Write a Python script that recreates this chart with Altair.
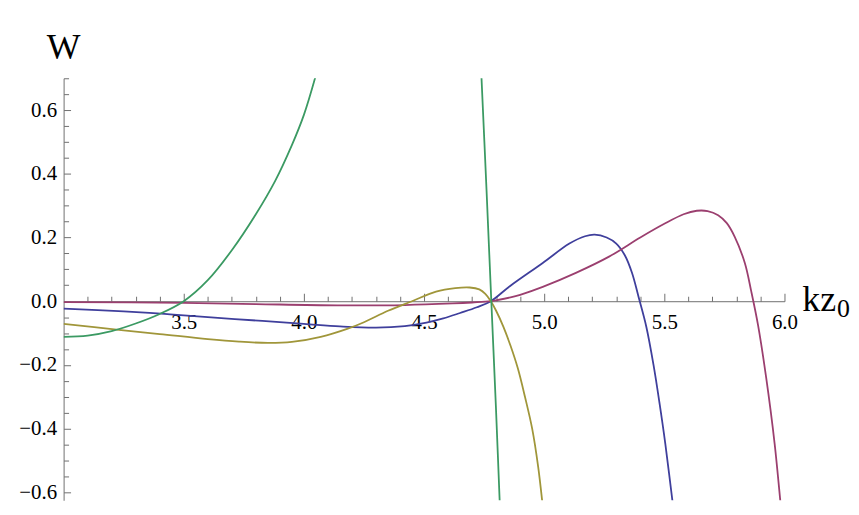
import altair as alt
import pandas as pd

# ---- data (x = kz0, y = W) ----
blue_x = [3.00, 3.25, 3.42, 3.60, 3.81, 4.00, 4.15, 4.30, 4.42, 4.51, 4.58, 4.65, 4.72, 4.778, 4.857, 4.994, 5.105, 5.17, 5.21, 5.26, 5.30, 5.335, 5.365, 5.394, 5.425, 5.455, 5.48, 5.504, 5.538, 5.55]
blue_y = [-0.023, -0.032, -0.040, -0.050, -0.061, -0.071, -0.079, -0.083, -0.078, -0.067, -0.054, -0.037, -0.019, 0.0, 0.047, 0.120, 0.181, 0.204, 0.209, 0.200, 0.181, 0.145, 0.090, 0.010, -0.080, -0.200, -0.320, -0.447, -0.653, -0.720]

purple_x = [3.00, 3.50, 3.80, 4.14, 4.42, 4.62, 4.70, 4.778, 4.86, 4.90, 4.994, 5.132, 5.27, 5.40, 5.50, 5.58, 5.635, 5.68, 5.724, 5.76, 5.793, 5.835, 5.862, 5.890, 5.924, 5.959, 5.986, 5.995]
purple_y = [-0.003, -0.005, -0.009, -0.013, -0.012, -0.007, -0.004, 0.0, 0.012, 0.020, 0.045, 0.089, 0.140, 0.200, 0.243, 0.273, 0.284, 0.283, 0.270, 0.245, 0.202, 0.120, 0.030, -0.075, -0.241, -0.447, -0.653, -0.720]

yellow_x = [3.00, 3.22, 3.40, 3.60, 3.73, 3.85, 3.95, 4.07, 4.18, 4.25, 4.35, 4.45, 4.55, 4.63, 4.69, 4.73, 4.755, 4.778, 4.80, 4.83, 4.86, 4.89, 4.92, 4.95, 4.975, 4.995, 5.005]
yellow_y = [-0.071, -0.089, -0.103, -0.119, -0.127, -0.131, -0.128, -0.112, -0.087, -0.066, -0.030, 0.0, 0.030, 0.041, 0.043, 0.037, 0.023, 0.0, -0.030, -0.080, -0.140, -0.210, -0.300, -0.400, -0.520, -0.650, -0.720]

green1_x = [3.00, 3.10, 3.20, 3.30, 3.40, 3.50, 3.60, 3.70, 3.80, 3.88, 3.95, 4.00, 4.05]
green1_y = [-0.112, -0.108, -0.094, -0.070, -0.040, 0.0, 0.066, 0.160, 0.273, 0.377, 0.490, 0.585, 0.710]

green2_x = [4.738, 4.760, 4.780, 4.799, 4.818]
green2_y = [0.720, 0.350, 0.0, -0.330, -0.690]

x_major = [3.5, 4.0, 4.5, 5.0, 5.5, 6.0]
x_minor = [3.1, 3.2, 3.3, 3.4, 3.6, 3.7, 3.8, 3.9, 4.1, 4.2, 4.3, 4.4, 4.6, 4.7, 4.8, 4.9,
           5.1, 5.2, 5.3, 5.4, 5.6, 5.7, 5.8, 5.9]
y_major = [-0.6, -0.4, -0.2, 0.0, 0.2, 0.4, 0.6]
y_minor = [-0.55, -0.5, -0.45, -0.35, -0.3, -0.25, -0.15, -0.1, -0.05, 0.05, 0.1, 0.15,
           0.25, 0.3, 0.35, 0.45, 0.5, 0.55, 0.65, 0.7]

series = [
    ("blue", "blue", blue_x, blue_y),
    ("purple", "purple", purple_x, purple_y),
    ("yellow", "yellow", yellow_x, yellow_y),
    ("green1", "green", green1_x, green1_y),
    ("green2", "green", green2_x, green2_y),
]
rows = []
for sid, col, xs_, ys_ in series:
    for xv, yv in zip(xs_, ys_):
        rows.append({"x": xv, "y": yv, "s": sid, "c": col})
df = pd.DataFrame(rows)

labels_df = pd.DataFrame({"x": [3.0], "y": [0.7], "t": ["W"]})
kz_df = pd.DataFrame({"x": [6.0], "y": [0.0], "t": ["kz"]})
sub_df = pd.DataFrame({"x": [6.0], "y": [0.0], "t": ["0"]})

W_PX = 726
H_PX = 425
Y_LO, Y_HI = -0.625, 0.7
ZERO_POS = (Y_HI - 0.0) / (Y_HI - Y_LO) * H_PX

xs = alt.Scale(domain=[3.0, 6.0], nice=False, zero=False)
ys = alt.Scale(domain=[Y_LO, Y_HI], nice=False, zero=False)

AX_COL = "#707070"
FONT = "Liberation Serif"
LBL = 21

color_scale = alt.Scale(domain=["blue", "purple", "yellow", "green"],
                        range=["#3f3f9c", "#9b3f6f", "#a0963a", "#3b9a63"])

lines = alt.Chart(df).mark_line(clip=True, strokeWidth=1.8, interpolate="catmull-rom").encode(
    x=alt.X("x:Q", scale=xs, axis=alt.Axis(
        orient="top", offset=-ZERO_POS, values=x_major, tickSize=8, tickColor=AX_COL,
        domainColor=AX_COL, grid=False, title=None, format=".1f",
        labelFont=FONT, labelFontSize=LBL, labelColor="black",
        labelBaseline="middle", labelPadding=-29, labelFlush=False, labelOverlap=False)),
    y=alt.Y("y:Q", scale=ys, axis=alt.Axis(
        orient="right", offset=-W_PX, values=y_major, tickSize=7, tickColor=AX_COL,
        domainColor=AX_COL, grid=False, title=None, format=".1f",
        labelFont=FONT, labelFontSize=LBL, labelColor="black",
        labelAlign="right", labelBaseline="middle", labelPadding=-14,
        labelFlush=False, labelOverlap=False)),
    color=alt.Color("c:N", scale=color_scale, legend=None),
    detail="s:N",
)

minor = alt.Chart(df).mark_line(opacity=0).encode(
    x=alt.X("x:Q", scale=xs, axis=alt.Axis(
        orient="top", offset=-ZERO_POS, values=x_minor, tickSize=5, tickColor=AX_COL,
        domain=False, labels=False, grid=False, title=None)),
    y=alt.Y("y:Q", scale=ys, axis=alt.Axis(
        orient="right", offset=-W_PX, values=y_minor, tickSize=5, tickColor=AX_COL,
        domain=False, labels=False, grid=False, title=None)),
    detail="s:N",
)

w_text = alt.Chart(labels_df).mark_text(font=FONT, fontSize=36, align="center",
                                        baseline="alphabetic", dy=-19, color="black").encode(
    x=alt.X("x:Q", scale=xs, axis=None), y=alt.Y("y:Q", scale=ys, axis=None), text="t:N")

kz_text = alt.Chart(kz_df).mark_text(font=FONT, fontSize=36, align="left",
                                     baseline="alphabetic", dx=18, dy=10, color="black").encode(
    x=alt.X("x:Q", scale=xs, axis=None), y=alt.Y("y:Q", scale=ys, axis=None), text="t:N")

sub_text = alt.Chart(sub_df).mark_text(font=FONT, fontSize=26, align="left",
                                       baseline="alphabetic", dx=53, dy=15.5, color="black").encode(
    x=alt.X("x:Q", scale=xs, axis=None), y=alt.Y("y:Q", scale=ys, axis=None), text="t:N")

chart = alt.layer(lines, minor, w_text, kz_text, sub_text).resolve_axis(
    x="independent", y="independent"
).properties(
    width=W_PX, height=H_PX,
    autosize=alt.AutoSizeParams(type="none"),
    padding={"left": 56, "top": 69, "right": 67, "bottom": 3},
    background="white",
).configure_view(
    strokeWidth=0, stroke="transparent"
).configure_axis(
    labelFont=FONT, labelFontSize=LBL, labelColor="black"
)

chart.save("out.html", embed_options={"renderer": "svg", "actions": False})
